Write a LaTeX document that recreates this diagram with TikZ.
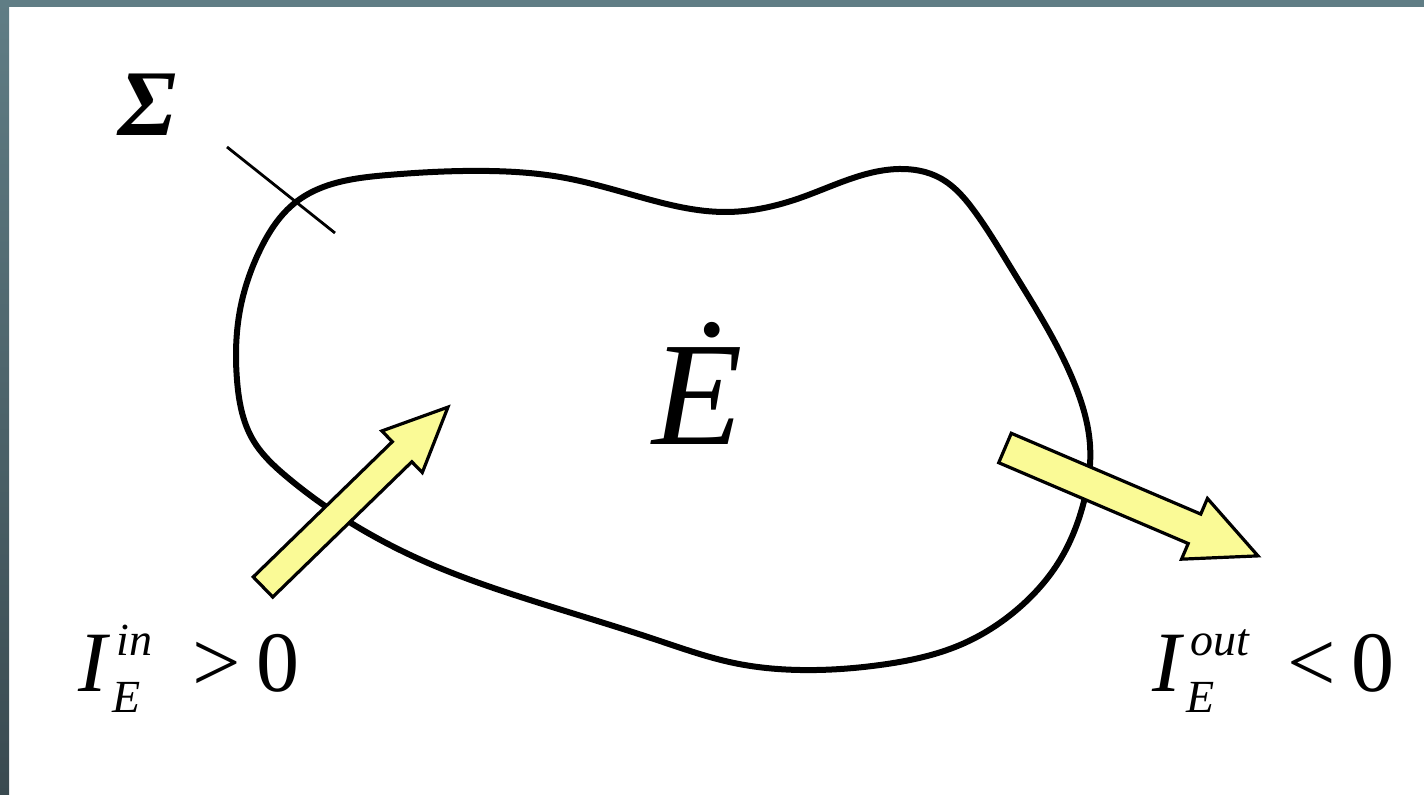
\documentclass[tikz,border=0pt]{standalone}
\usepackage{fontspec}
\setmainfont{Liberation Serif}
\usetikzlibrary{hobby}
\definecolor{arrowfill}{RGB}{250,250,150}
\definecolor{frametop}{RGB}{96,125,133}
\definecolor{framebot}{RGB}{58,74,80}
\newcommand\supsub[2]{\ooalign{\raisebox{18pt}{\fontsize{23}{23}\selectfont\itshape\kern2pt #1}\cr\raisebox{-10.5pt}{\fontsize{23}{23}\selectfont\itshape #2}\cr}}
\tikzset{
  blob/.style={line width=3pt, line join=round},
  leader/.style={line width=1.4pt},
  fatarrow/.style={draw=black, fill=arrowfill, line width=1.6pt, line join=miter},
  lbl/.style={inner sep=0pt, outer sep=0pt, font=\fontsize{43}{43}\selectfont}
}
\begin{document}
\begin{tikzpicture}[x=0.5pt,y=-0.5pt]
\useasboundingbox (0,0) rectangle (1424,795);
\fill[white] (0,0) rectangle (1424,795);
\fill[frametop] (0,0) rectangle (1424,7);
\shade[top color=frametop, bottom color=framebot] (0,0) rectangle (9,795);

% control volume
\draw[blob, use Hobby shortcut, closed=true]
 (296,202) .. (388,175) .. (489,171) .. (560,177) .. (640,197) .. (725,212)
 .. (800,198) .. (899,169) .. (940,178) .. (975,212) .. (1011,268)
 .. (1075,385) .. (1090,445) .. (1083,505) .. (1060,560) .. (1020,607) .. (960,645)
 .. (880,665) .. (800,670) .. (734,663) .. (657,640) .. (530,600) .. (428,563)
 .. (351,523) .. (287,477) .. (253,440) .. (237,380) .. (240,310) .. (260,250);

% leader for Sigma
\coordinate (la) at (227,147);
\coordinate (lb) at (335,233);
\draw[leader] (la) -- (lb);
\node[lbl, anchor=base west, font=\fontsize{47}{47}\selectfont] (sigma) at (118,136) {\bfseries\itshape Σ};

% energy rate
\node[lbl, anchor=base, font=\fontsize{74}{74}\selectfont] (edot) at (698,445) {\itshape Ė};

% inflow arrow
\begin{scope}[shift={(263,587)}, rotate=44.2]
\draw[fatarrow] (0,14) -- (194,14) -- (194,29) -- (258,0) -- (194,-29) -- (194,-14) -- (0,-14) -- cycle;
\end{scope}
% outflow arrow
\begin{scope}[shift={(1005,448)}, rotate=-23.1]
\draw[fatarrow] (0,16) -- (206,16) -- (206,33) -- (275,0) -- (206,-33) -- (206,-16) -- (0,-16) -- cycle;
\end{scope}

% labels
\node[lbl, anchor=base west] (iin) at (78,692) {\itshape I\kern3pt\supsub{in}{E}\hspace{20pt}\upshape >\hspace{8pt}0};
\node[lbl, anchor=base west] (iout) at (1152,692) {\itshape I\kern3pt\supsub{out}{E}\hspace{19pt}\upshape <\hspace{8pt}0};
\end{tikzpicture}
\end{document}
